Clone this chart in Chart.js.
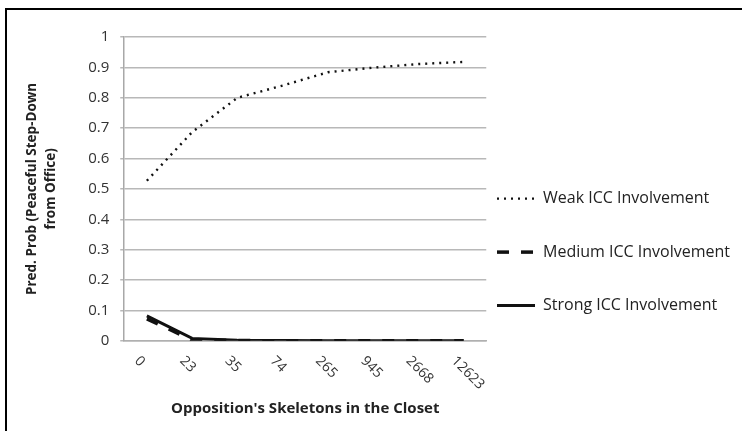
<!DOCTYPE html>
<html>
<head>
<meta charset="utf-8">
<script src="https://cdn.jsdelivr.net/npm/chart.js@4/dist/chart.umd.min.js"></script>
<style>
  html, body { margin: 0; padding: 0; background: #fff; overflow: hidden; }
  #wrap { position: relative; width: 742px; height: 431px; }
  #frame { position: absolute; left: 5px; top: 8px; width: 900px; height: 600px; border: 2px solid #000; pointer-events: none; }
  canvas { position: absolute; left: 0; top: 0; }
</style>
</head>
<body>
<div id="wrap">
  <canvas id="c" width="742" height="431"></canvas>
  <div id="frame"></div>
</div>
<script>
// ---- data ----
const categories = ['0', '23', '35', '74', '265', '945', '2668', '12623'];
const weakICC   = [0.527, 0.687, 0.800, 0.840, 0.884, 0.899, 0.911, 0.918];
const mediumICC = [0.072, 0.003, 0.001, 0.000, 0.000, 0.000, 0.000, 0.000];
const strongICC = [0.082, 0.008, 0.002, 0.001, 0.000, 0.000, 0.000, 0.000];
const seriesNames = ['Weak ICC Involvement', 'Medium ICC Involvement', 'Strong ICC Involvement'];
const yTickValues = [0, 0.1, 0.2, 0.3, 0.4, 0.5, 0.6, 0.7, 0.8, 0.9, 1];

Chart.defaults.font.family = "'Open Sans', sans-serif";
Chart.defaults.color = '#333';

// Rotate x labels clockwise (text runs down-right from the tick), as in the original
const origCompute = Chart.CategoryScale.prototype._computeLabelItems;
Chart.CategoryScale.prototype._computeLabelItems = function (ca) {
  const items = origCompute.call(this, ca);
  if (this.isHorizontal() && this.labelRotation) {
    const r = -this.labelRotation * Math.PI / 180;
    items.forEach(it => {
      const lh = it.font && it.font.lineHeight ? it.font.lineHeight : 16;
      it.options.translation = [it.options.translation[0] - (lh / 2) * Math.sin(r) - 4, it.options.translation[1]];
      it.options.rotation = -r;
      it.options.textAlign = 'left';
    });
  }
  return items;
};

const ds = [
  { label: seriesNames[0], data: weakICC, borderColor: '#111', borderWidth: 2.4, borderDash: [2, 5], pointRadius: 0, tension: 0, fill: false },
  { label: seriesNames[1], data: mediumICC, borderColor: '#111', borderWidth: 3.5, borderDash: [12, 12], pointRadius: 0, tension: 0, fill: false },
  { label: seriesNames[2], data: strongICC, borderColor: '#111', borderWidth: 3, pointRadius: 0, tension: 0, fill: false }
];

new Chart(document.getElementById('c'), {
  type: 'line',
  data: { labels: categories, datasets: ds },
  options: {
    responsive: false,
    animation: false,
    devicePixelRatio: 1,
    layout: { padding: { left: 18, top: 37, right: 2, bottom: 0 } },
    plugins: {
      tooltip: { enabled: false },
      legend: {
        position: 'right',
        align: 'center',
        maxWidth: 320,
        title: { display: true, text: ' ', font: { size: 16 }, padding: { top: 8, bottom: 9 } },
        labels: {
          usePointStyle: true,
          pointStyleWidth: 38,
          padding: 10.75,
          color: '#222',
          font: { size: 16 },
          generateLabels(chart) {
            const out = [];
            chart.data.datasets.forEach((d, i) => {
              if (i > 0) {
                out.push({ text: '', fillStyle: 'rgba(0,0,0,0)', strokeStyle: 'rgba(0,0,0,0)', lineWidth: 0, pointStyle: 'line', hidden: false, datasetIndex: -1 });
              }
              out.push({
                text: d.label, fillStyle: d.borderColor, strokeStyle: d.borderColor,
                lineWidth: d.borderWidth, lineDash: d.borderDash || [], lineCap: 'butt',
                pointStyle: 'line', hidden: false, datasetIndex: i, fontColor: '#222'
              });
            });
            return out;
          }
        },
        onClick() {}
      }
    },
    scales: {
      x: {
        type: 'category',
        offset: true,
        grid: { display: false },
        border: { display: true, color: '#b0b0b0', width: 1.5 },
        ticks: { minRotation: 45, maxRotation: 45, padding: 4, color: '#333', font: { size: 14 }, autoSkip: false },
        title: { display: true, text: "Opposition's Skeletons in the Closet", color: '#222', font: { size: 15, weight: 'bold' }, padding: { top: 3, bottom: 13 } }
      },
      y: {
        min: 0, max: 1,
        afterBuildTicks(scale) { scale.ticks = yTickValues.map(v => ({ value: v })); },
        grid: { color: '#b8b8b8', lineWidth: 1.5, tickLength: 4, drawTicks: true },
        border: { display: true, color: '#a8a8a8', width: 1.5 },
        ticks: { padding: 11, color: '#333', font: { size: 15 }, callback: v => String(Math.round(v * 10) / 10) },
        title: { display: true, text: ['Pred. Prob (Peaceful Step-Down', 'from Office)'], color: '#222', font: { size: 13.5, weight: 'bold', lineHeight: 1.45 }, padding: { top: 4, bottom: 16 } }
      }
    }
  }
});
</script>
</body>
</html>
